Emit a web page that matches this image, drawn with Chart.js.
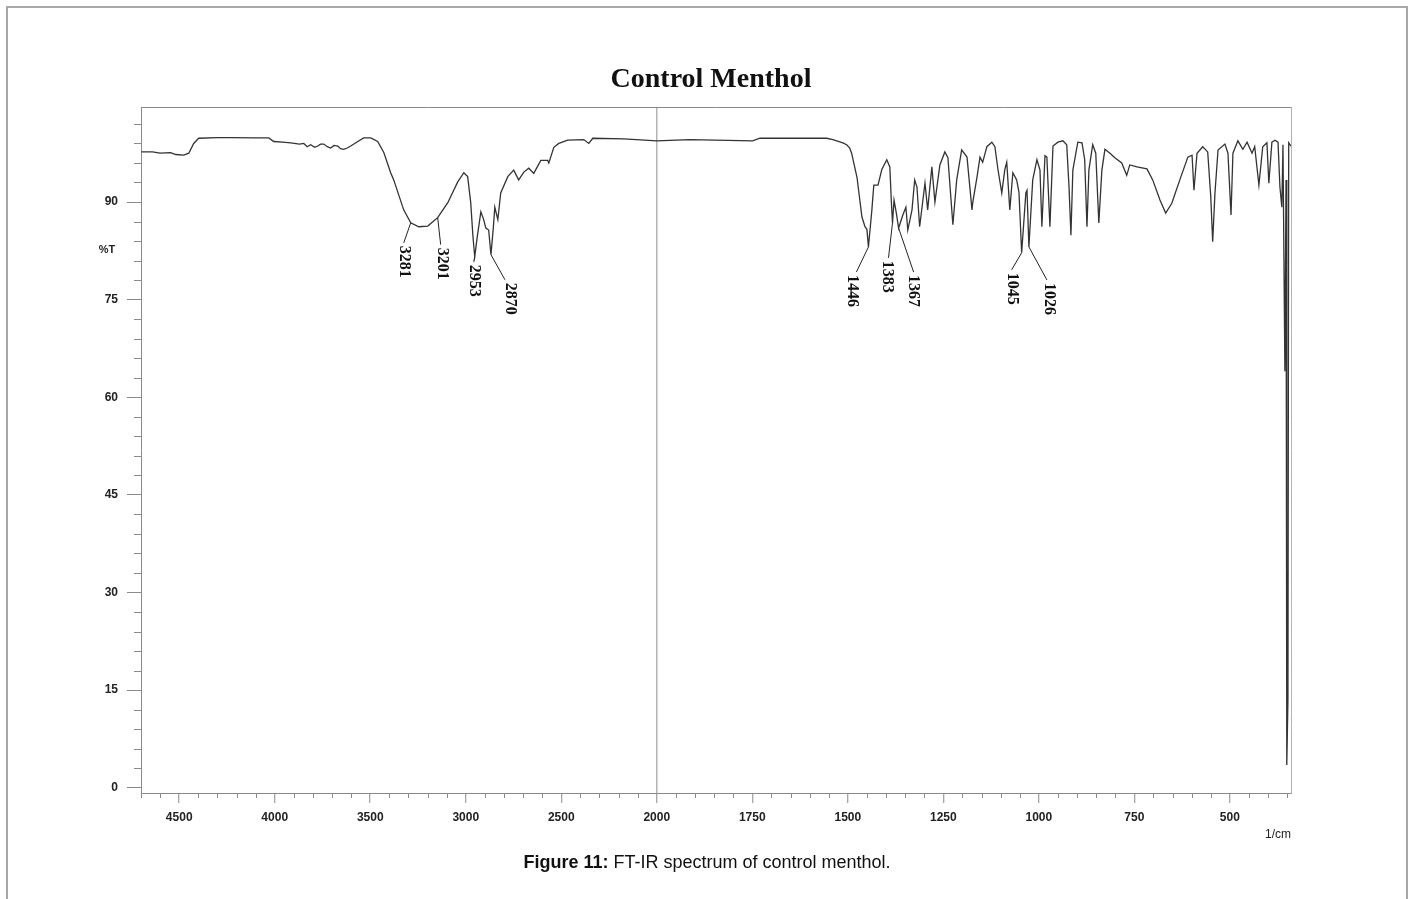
<!DOCTYPE html>
<html>
<head>
<meta charset="utf-8">
<title>Control Menthol</title>
<script src="https://cdn.jsdelivr.net/npm/chart.js@4.4.1/dist/chart.umd.min.js"></script>
<style>
  html, body { margin: 0; padding: 0; background: #fff; }
  body { width: 1414px; height: 899px; position: relative; overflow: hidden; }
  #frame { position: absolute; left: 6px; top: 6px; width: 1402px; height: 920px; border: 2px solid #a8a8a8; box-sizing: border-box; }
  #chart { position: absolute; left: 0; top: 0; }
  #caption { position: absolute; left: 0; width: 1414px; top: 852px; text-align: center; font: 18px "Liberation Sans", Arial, sans-serif; color: #111; }
</style>
</head>
<body>
<div id="frame"></div>
<canvas id="chart" width="1414" height="899"></canvas>
<div id="caption"><b>Figure 11:</b> FT-IR spectrum of control menthol.</div>
<script>
// spectrum: wavenumber (1/cm) and transmittance (%T)
const wavenumbers = [
  4698, 4640, 4600, 4545, 4518, 4476, 4450, 4424, 4398, 4300, 4230, 4100, 4031, 4005, 3960, 3916,
  3870, 3848, 3830, 3812, 3790, 3775, 3760, 3743, 3725, 3707, 3690, 3670, 3655, 3639, 3620, 3602,
  3565, 3534, 3497, 3461, 3429, 3393, 3377, 3325, 3288, 3246, 3199, 3147, 3094, 3042, 3010, 2990,
  2974, 2962, 2953, 2940, 2921, 2906, 2895, 2880, 2868, 2855, 2848, 2832, 2817, 2780, 2749, 2723,
  2696, 2670, 2644, 2607, 2571, 2565, 2539, 2513, 2466, 2382, 2356, 2335, 2173, 2000, 1914, 1749,
  1730, 1555, 1539, 1513, 1503, 1495, 1490, 1476, 1463, 1455, 1450, 1446, 1437, 1432, 1421, 1411,
  1398, 1390, 1386, 1383, 1379, 1373, 1367, 1356, 1348, 1343, 1332, 1325, 1319, 1312, 1298, 1291,
  1280, 1272, 1259, 1246, 1238, 1225, 1215, 1202, 1188, 1175, 1173, 1162, 1154, 1147, 1136, 1123,
  1115, 1107, 1097, 1089, 1084, 1076, 1068, 1058, 1052, 1045, 1034, 1031, 1026, 1016, 1005, 997,
  992, 984, 979, 971, 963, 950, 937, 927, 921, 916, 911, 898, 887, 880, 874, 869,
  859, 851, 843, 835, 827, 814, 801, 783, 770, 762, 743, 717, 702, 683, 668, 652,
  631, 610, 599, 594, 586, 571, 558, 550, 545, 539, 531, 513, 505, 497, 492, 479,
  466, 455, 442, 435, 424, 414, 403, 398, 390, 382, 374, 369, 364, 361, 356, 353,
  351, 348, 346, 340
];
const transmittance = [
  97.7, 97.7, 97.5, 97.6, 97.3, 97.2, 97.5, 99.0, 99.8, 99.9, 99.9, 99.85, 99.85, 99.3, 99.2, 99.1,
  98.9, 99.0, 98.5, 98.8, 98.4, 98.6, 98.9, 98.9, 98.5, 98.3, 98.7, 98.6, 98.2, 98.1, 98.3, 98.6,
  99.3, 99.85, 99.85, 99.3, 97.6, 94.5, 93.4, 88.8, 86.8, 86.2, 86.3, 87.6, 89.9, 93.1, 94.5, 93.9,
  89.9, 84.6, 81.6, 84.6, 88.5, 87.3, 86.0, 85.7, 81.9, 86.3, 89.2, 87.3, 91.4, 93.9, 94.9, 93.4,
  94.6, 95.2, 94.4, 96.4, 96.4, 96.0, 98.4, 99.0, 99.5, 99.6, 99.0, 99.8, 99.7, 99.4, 99.6, 99.4,
  99.8, 99.8, 99.6, 99.1, 98.8, 98.3, 97.5, 93.8, 87.7, 86.2, 85.8, 83.1, 88.8, 92.6, 92.6, 95.0,
  96.5, 95.4, 90.0, 86.8, 90.3, 88.3, 86.0, 88.0, 89.2, 85.7, 88.8, 93.4, 92.3, 86.2, 92.9, 88.8,
  95.4, 90.0, 95.7, 97.7, 96.8, 86.5, 93.4, 98.0, 96.9, 88.8, 89.9, 93.8, 96.9, 96.1, 98.5, 99.2,
  98.5, 95.0, 91.4, 95.0, 96.1, 88.8, 94.5, 93.4, 91.5, 82.2, 91.4, 91.8, 83.1, 93.4, 96.5, 94.9,
  86.2, 97.1, 96.9, 86.2, 98.6, 99.2, 99.4, 98.8, 92.3, 84.9, 94.9, 99.2, 99.1, 96.5, 86.2, 94.9,
  98.8, 97.5, 86.8, 94.9, 98.1, 97.5, 96.8, 96.0, 94.1, 95.7, 95.4, 95.1, 93.4, 90.3, 88.3, 89.8,
  93.4, 96.9, 97.2, 91.8, 97.5, 98.5, 97.7, 90.8, 83.9, 91.4, 98.0, 98.9, 97.5, 88.0, 97.5, 99.4,
  98.1, 99.2, 97.5, 98.5, 92.6, 98.5, 99.1, 92.9, 99.2, 99.5, 99.2, 92.3, 89.2, 98.8, 64.0, 93.4,
  3.5, 13.5, 99.1, 98.6
];

// axis labels
const xTickValues = [4500, 4000, 3500, 3000, 2500, 2000, 1750, 1500, 1250, 1000, 750, 500];
const yTickValues = [0, 15, 30, 45, 60, 75, 90];

// labelled peaks: text, and where each leader line meets the trace
const peakLabels = ['3281', '3201', '2953', '2870', '1446', '1383', '1367', '1045', '1026'];
const peakWavenumbers = [3288, 3147, 2953, 2868, 1446, 1383, 1367, 1045, 1026];
const peakTransmittance = [86.8, 87.6, 81.6, 81.9, 83.1, 86.8, 86.0, 82.2, 83.1];

// the x scale is compressed 2:1 above 2000 1/cm
const toAxis = w => (w >= 2000 ? (w - 2000) / 2 : w - 2000);
const fromAxis = u => (u >= 0 ? 2000 + 2 * u : 2000 + u);
const majorX = xTickValues.map(toAxis);
const isMajorX = v => majorX.includes(v);

const GREY = '#8a8a8a';
const TICK_FONT = { family: '"Liberation Sans", Arial, sans-serif', size: 12, weight: 'bold' };

const minorTicks = {
  id: 'minorTicks',
  afterDraw(chart, args, opts) {
    const { ctx } = chart;
    const x = chart.scales.x, y = chart.scales.y;
    ctx.save();
    ctx.strokeStyle = GREY;
    ctx.lineWidth = 1;
    ctx.beginPath();
    x.ticks.forEach(t => {
      if (isMajorX(t.value)) return;
      const px = Math.round(x.getPixelForValue(t.value)) + 0.5;
      ctx.moveTo(px, x.top);
      ctx.lineTo(px, x.top + opts.xLength);
    });
    y.ticks.forEach(t => {
      if (yTickValues.includes(t.value)) return;
      const py = Math.round(y.getPixelForValue(t.value)) + 0.5;
      ctx.moveTo(y.right, py);
      ctx.lineTo(y.right - opts.yLength, py);
    });
    ctx.stroke();
    ctx.restore();
  }
};

const peakMarks = {
  id: 'peakMarks',
  afterDatasetsDraw(chart, args, opts) {
    const { ctx, chartArea } = chart;
    const x = chart.scales.x, y = chart.scales.y;
    ctx.save();
    ctx.strokeStyle = '#222';
    ctx.fillStyle = '#111';
    ctx.lineWidth = 1;
    ctx.font = 'bold 16px "Liberation Serif", "Times New Roman", serif';
    peakLabels.forEach((label, i) => {
      const px = x.getPixelForValue(toAxis(peakWavenumbers[i]));
      const py = y.getPixelForValue(peakTransmittance[i]);
      const [dx, dy, tx] = opts.leaders[i];
      ctx.beginPath();
      ctx.moveTo(px, py);
      ctx.lineTo(px + dx, py + dy);
      ctx.stroke();
      ctx.save();
      ctx.translate(px + dx + tx, py + dy + 3);
      ctx.rotate(Math.PI / 2);
      ctx.textAlign = 'left';
      ctx.textBaseline = 'middle';
      ctx.fillText(label, 0, 0);
      ctx.restore();
    });

    // %T beside the y axis, 1/cm under the end of the x axis
    ctx.fillStyle = '#222';
    ctx.font = 'bold 11px "Liberation Sans", Arial, sans-serif';
    ctx.textAlign = 'center';
    ctx.textBaseline = 'middle';
    ctx.fillText('%T', chartArea.left - 34, y.getPixelForValue(82.6));
    ctx.font = '12px "Liberation Sans", Arial, sans-serif';
    ctx.textAlign = 'right';
    ctx.fillText('1/cm', chartArea.right, x.top + 42);
    ctx.restore();
  }
};

const X_MIN = toAxis(340), X_MAX = toAxis(4700);
const Y_MIN = -0.8, Y_MAX = 104.6;

new Chart(document.getElementById('chart'), {
  type: 'line',
  data: {
    datasets: [{
      data: wavenumbers.map((w, i) => ({ x: toAxis(w), y: transmittance[i] })),
      borderColor: '#333',
      borderWidth: 1.3,
      pointRadius: 0,
      tension: 0
    }]
  },
  options: {
    responsive: false,
    animation: false,
    events: [],
    layout: { padding: { left: 8, top: 63, right: 0, bottom: 53 } },
    plugins: {
      legend: { display: false },
      tooltip: { enabled: false },
      title: {
        display: true,
        text: 'Control Menthol',
        color: '#111',
        font: { family: '"Liberation Serif", "Times New Roman", serif', size: 28, weight: 'bold', lineHeight: 1.2 },
        padding: { top: 0, bottom: 10.4 }
      },
      minorTicks: { xLength: 5, yLength: 7 },
      peakMarks: {
        leaders: [[-7, 20, 0], [3, 27, 1], [-1, 5, 0], [14, 25, 5], [-12, 25, -4], [-4, 35, -1], [15, 44, 0], [-10, 17, 0], [18, 33, 2]]
      }
    },
    scales: {
      x: {
        type: 'linear',
        position: 'bottom',
        reverse: true,
        min: X_MIN,
        max: X_MAX,
        afterFit: s => { s.height = 53; },
        border: { display: true, color: GREY, width: 1 },
        grid: {
          drawOnChartArea: true,
          color: c => (c.tick && c.tick.value === 0 ? '#b4b4b4' : 'rgba(0,0,0,0)'),
          lineWidth: 1.5,
          tickColor: c => (c.tick && isMajorX(c.tick.value) ? GREY : 'rgba(0,0,0,0)'),
          tickWidth: 1,
          tickLength: 10
        },
        ticks: {
          stepSize: 50,
          includeBounds: false,
          autoSkip: false,
          maxRotation: 0,
          padding: 7,
          color: '#222',
          font: TICK_FONT,
          callback: v => (isMajorX(v) ? String(fromAxis(v)) : '')
        }
      },
      xTop: {
        type: 'linear',
        position: 'top',
        reverse: true,
        min: X_MIN,
        max: X_MAX,
        afterFit: s => { s.height = 0; },
        border: { display: true, color: GREY, width: 1 },
        grid: { display: false },
        ticks: { display: false }
      },
      y: {
        type: 'linear',
        position: 'left',
        min: Y_MIN,
        max: Y_MAX,
        afterFit: s => { s.width = 133; },
        border: { display: true, color: GREY, width: 1 },
        grid: {
          drawOnChartArea: false,
          tickColor: c => (c.tick && yTickValues.includes(c.tick.value) ? GREY : 'rgba(0,0,0,0)'),
          tickWidth: 1,
          tickLength: 14
        },
        ticks: {
          stepSize: 3,
          includeBounds: false,
          autoSkip: false,
          padding: 9,
          color: '#222',
          font: TICK_FONT,
          callback: v => (yTickValues.includes(v) ? String(v) : '')
        }
      },
      yRight: {
        type: 'linear',
        position: 'right',
        min: Y_MIN,
        max: Y_MAX,
        afterFit: s => { s.width = 123; },
        border: { display: true, color: '#b4b4b4', width: 1 },
        grid: { display: false },
        ticks: { display: false }
      }
    }
  },
  plugins: [minorTicks, peakMarks]
});
</script>
</body>
</html>
